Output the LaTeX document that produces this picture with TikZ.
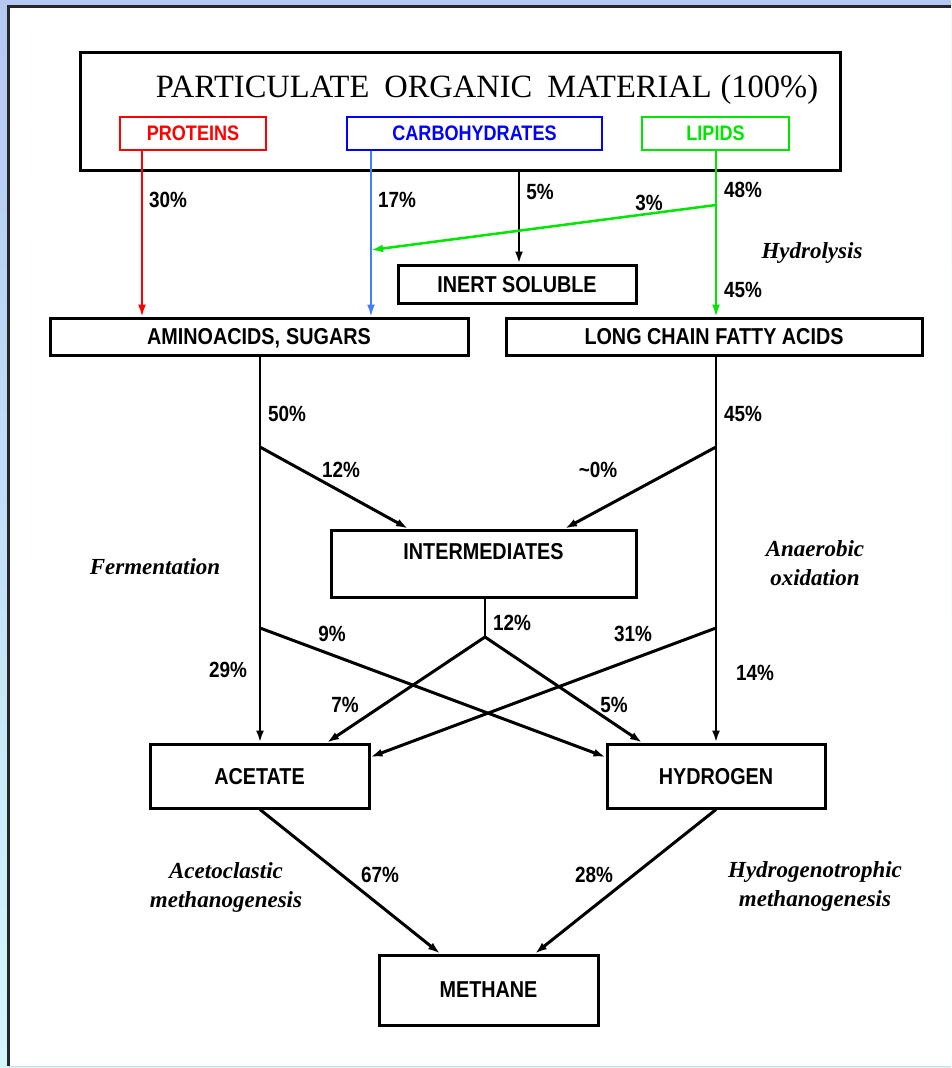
\documentclass[tikz,border=0pt]{standalone}
\usepackage{fontspec}
\setmainfont{Liberation Serif}
\newfontfamily\labfont{Liberation Sans}[FakeStretch=0.86]
\usetikzlibrary{arrows.meta,calc}
\definecolor{bgtop}{RGB}{180,200,242}
\definecolor{bgbot}{RGB}{210,248,252}
\definecolor{pred}{RGB}{255,0,0}
\definecolor{pblue}{RGB}{0,0,255}
\definecolor{pblue2}{RGB}{64,128,255}
\definecolor{pgreen}{RGB}{0,230,0}
\tikzset{
  box/.style={draw=black, line width=3pt, fill=white, inner sep=0pt},
  cbox/.style={draw=#1, line width=2.5pt, fill=white, inner sep=0pt, text=#1,
    font=\labfont\bfseries\fontsize{21}{23}\selectfont},
  lab/.style={font=\labfont\bfseries\fontsize{23}{25}\selectfont, text depth=0pt},
  pct/.style={font=\labfont\bfseries\fontsize{22}{24}\selectfont, inner sep=0pt},
  proc/.style={font=\bfseries\itshape\fontsize{23}{29}\selectfont, align=center, inner sep=0pt},
  conn/.style={line width=2.5pt, black},
  arr/.style={conn, -{Latex[length=12pt,width=8pt]}},
}
\begin{document}
\begin{tikzpicture}[x=1pt,y=-1pt]
\useasboundingbox (0,0) rectangle (951,1068);
% background and panel
\fill[top color=bgtop, bottom color=bgbot] (0,0) rectangle (951,1068);
\fill[white] (8,6) rectangle (951,1066);
\draw[gray!30, line width=1pt] (8,1066) -- (951,1066);
\draw[black!85, line width=3pt] (8,1066) -- (8,6) -- (951,6);

% boxes
\node[box, minimum width=760pt, minimum height=118pt] (top) at (460,111) {};
\node[font=\fontsize{32.5}{34}\selectfont, inner sep=0pt] (title) at (487,90)
  {PARTICULATE\hspace{15pt}ORGANIC\hspace{15pt}MATERIAL\hspace{9pt}(100\%)};
\node[cbox=pred, minimum width=146pt, minimum height=33pt] (prot) at (193,133.5) {PROTEINS};
\node[cbox=pblue, minimum width=255pt, minimum height=33pt] (carb) at (474.5,133.5) {CARBOHYDRATES};
\node[cbox=pgreen, minimum width=147pt, minimum height=33pt] (lip) at (715.5,133.5) {LIPIDS};

\node[box, lab, minimum width=238pt, minimum height=38pt] (inert) at (517,284) {INERT SOLUBLE};
\node[box, lab, minimum width=418pt, minimum height=37pt] (amino) at (259,336.5) {AMINOACIDS,\hspace{6pt}SUGARS};
\node[box, lab, minimum width=416pt, minimum height=37pt] (lcfa) at (714,336.5) {LONG CHAIN FATTY ACIDS};
\node[box, minimum width=305pt, minimum height=67pt] (inter) at (483.5,563.5) {};
\node[lab, inner sep=0pt] (intertxt) at (483.5,551) {INTERMEDIATES};
\node[box, lab, minimum width=219pt, minimum height=64pt] (acet) at (259.5,776) {ACETATE};
\node[box, lab, minimum width=218pt, minimum height=64pt] (hyd) at (716,776) {HYDROGEN};
\node[box, lab, minimum width=219pt, minimum height=70pt] (meth) at (488.5,990) {METHANE};

% named coordinates for connector positions
\coordinate (xR) at (142,0);
\coordinate (xB) at (371,0);
\coordinate (xK) at (519,0);
\coordinate (xG) at (716,0);
\coordinate (g3) at (716,205);
\coordinate (b3) at (371,250);
\coordinate (xL) at (260,0);
\coordinate (xM) at (485,0);
\coordinate (fl) at (260,447);
\coordinate (fr) at (716,447);
\coordinate (cl) at (260,628);
\coordinate (cr) at (716,628);
\coordinate (cm) at (485,637);
\coordinate (iL) at (408,0);
\coordinate (iR) at (565,0);
\coordinate (aR) at (327,0);
\coordinate (hL) at (642,0);
\coordinate (yX) at (0,757);
\coordinate (mL) at (440,0);
\coordinate (mR) at (535,0);

% hydrolysis
\draw[arr, pred, line width=2pt] (prot.south -| xR) -- (amino.north -| xR);
\draw[arr, pblue2, line width=2pt] (carb.south -| xB) -- (amino.north -| xB);
\draw[arr] (top.south -| xK) -- (inert.north -| xK);
\draw[arr, pgreen, line width=2pt] (lip.south -| xG) -- (lcfa.north -| xG);
\draw[arr, pgreen, line width=2.5pt] (g3) -- (b3);

% fermentation / oxidation
\draw[arr] (amino.south -| xL) -- (acet.north -| xL);
\draw[arr] (lcfa.south -| xG) -- (hyd.north -| xG);
\draw[arr, line width=3pt] (fl) -- (inter.north -| iL);
\draw[arr, line width=3pt] (fr) -- (inter.north -| iR);
\draw[conn] (inter.south -| xM) -- (cm);
\draw[arr, line width=3pt] (cm) -- (acet.north -| aR);
\draw[arr, line width=3pt] (cm) -- (hyd.north -| hL);
\draw[arr, line width=3pt] (cl) -- (hyd.west |- yX);
\draw[arr, line width=3pt] (cr) -- (acet.east |- yX);

% methanogenesis
\draw[arr, line width=3pt] (acet.south -| xL) -- (meth.north -| mL);
\draw[arr, line width=3pt] (hyd.south -| xG) -- (meth.north -| mR);

% percentages
\node[pct] (p30) at (168,200) {30\%};
\node[pct] (p17) at (397,200) {17\%};
\node[pct] (p5a) at (540,192) {5\%};
\node[pct] (p48) at (743,190) {48\%};
\node[pct] (p3) at (649,203) {3\%};
\node[pct] (p45a) at (743,290) {45\%};
\node[pct] (p50) at (287,414) {50\%};
\node[pct] (p45b) at (743,414) {45\%};
\node[pct] (p12a) at (341,470) {12\%};
\node[pct] (p0) at (598,470) {\textasciitilde0\%};
\node[pct] (p12b) at (512,623) {12\%};
\node[pct] (p9) at (332,634) {9\%};
\node[pct] (p31) at (633,634) {31\%};
\node[pct] (p29) at (228,670) {29\%};
\node[pct] (p14) at (755,673) {14\%};
\node[pct] (p7) at (345,705) {7\%};
\node[pct] (p5b) at (614,705) {5\%};
\node[pct] (p67) at (380,875) {67\%};
\node[pct] (p28) at (594,875) {28\%};

% process names
\node[proc] (hydro) at (812,253) {Hydrolysis};
\node[proc] (ferm) at (155,567) {Fermentation};
\node[proc] (anox) at (815,563) {Anaerobic\\oxidation};
\node[proc] (aceto) at (226,887) {Acetoclastic\\methanogenesis};
\node[proc] (hydrog) at (815,886) {Hydrogenotrophic\\methanogenesis};
\end{tikzpicture}
\end{document}
